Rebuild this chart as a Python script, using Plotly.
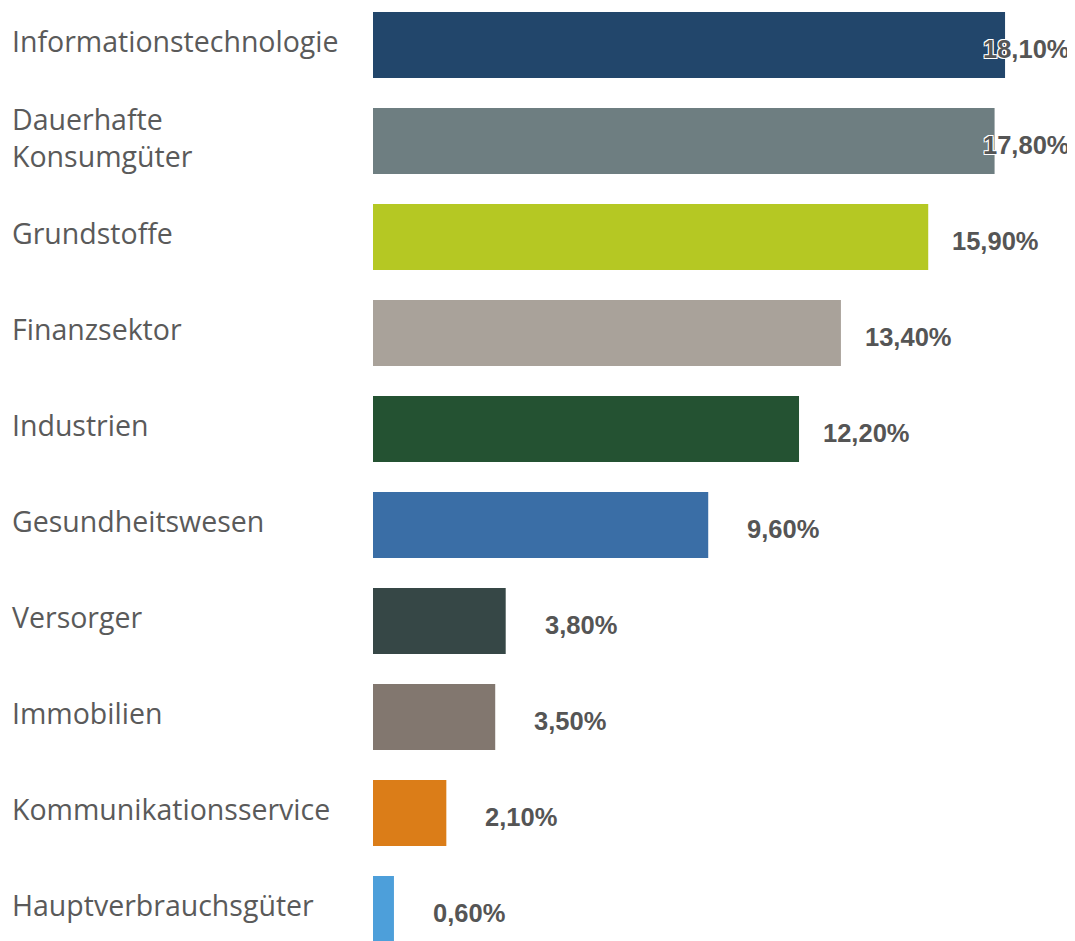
import plotly.graph_objects as go

categories = [
    "Informationstechnologie",
    "Dauerhafte<br>Konsumgüter",
    "Grundstoffe",
    "Finanzsektor",
    "Industrien",
    "Gesundheitswesen",
    "Versorger",
    "Immobilien",
    "Kommunikationsservice",
    "Hauptverbrauchsgüter",
]
values = [18.10, 17.80, 15.90, 13.40, 12.20, 9.60, 3.80, 3.50, 2.10, 0.60]
value_labels = ["18,10%", "17,80%", "15,90%", "13,40%", "12,20%",
                "9,60%", "3,80%", "3,50%", "2,10%", "0,60%"]
colors = ["#22466B", "#6E7E81", "#B5C823", "#A9A29A", "#245232",
          "#3A6EA6", "#364746", "#82776F", "#DB7D18", "#4D9FDA"]

# page has an 8px body margin; figure coordinates are page coordinates - 8
OFF = 8
W, H = 1075 - OFF, 941 - OFF
x0_px = 373 - OFF
px_per_unit = 34.92
x_max = (W - x0_px) / px_per_unit
label_offset = 113 / px_per_unit
label_limit = (1072 - OFF - x0_px) / px_per_unit
first_center = 45 - OFF
step = 96

ids = list(range(len(categories)))

fig = go.Figure(go.Bar(
    y=ids, x=values, orientation="h",
    marker=dict(color=colors, line=dict(width=0)),
    width=0.6875, hoverinfo="skip",
))

annotations = []
for i, (cat, v, lab) in enumerate(zip(categories, values, value_labels)):
    annotations.append(dict(
        x=(10 - OFF) / W, xref="paper", y=i, yref="y",
        text=cat, showarrow=False, xanchor="left", yanchor="middle", align="left",
        font=dict(family="Open Sans", size=28.5, color="#5a5a5a"),
        yshift=4,
    ))
    annotations.append(dict(
        x=min(v + label_offset, label_limit), xref="x", y=i, yref="y",
        text=lab, showarrow=False, xanchor="right", yanchor="middle",
        font=dict(family="Liberation Sans", size=25.5, color="#555555", weight="bold",
                  shadow="-1px -1px 0 #fff, 1px -1px 0 #fff, -1px 1px 0 #fff, 1px 1px 0 #fff"),
        yshift=-4,
    ))

fig.update_layout(
    width=W, height=H,
    margin=dict(l=0, r=0, t=0, b=0),
    paper_bgcolor="white", plot_bgcolor="white",
    showlegend=False,
    xaxis=dict(domain=[x0_px / W, 1], range=[0, x_max], visible=False, fixedrange=True),
    yaxis=dict(range=[(H - first_center) / step, -first_center / step],
               visible=False, fixedrange=True),
    annotations=annotations,
)

fig.write_html("out.html")
